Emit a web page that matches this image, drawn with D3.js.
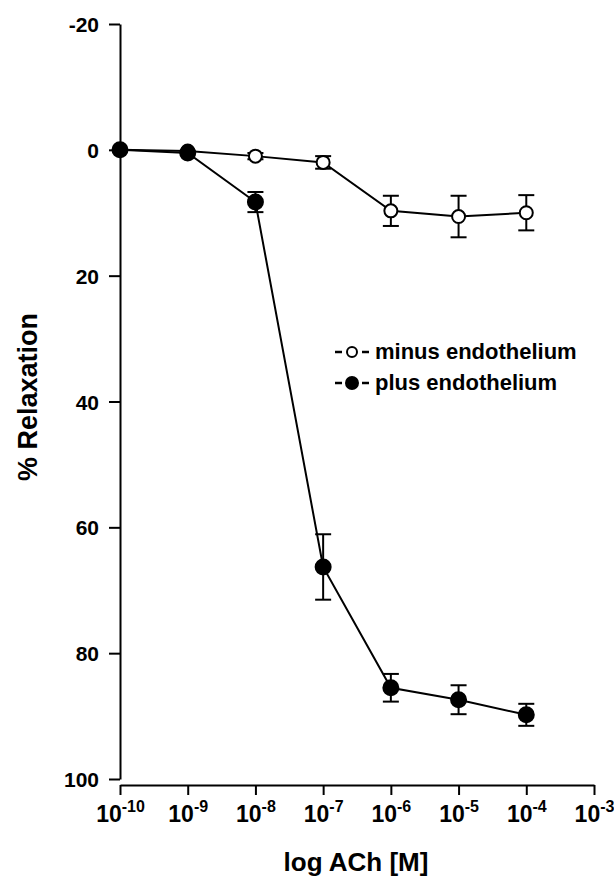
<!DOCTYPE html>
<html>
<head>
<meta charset="utf-8">
<script src="https://cdn.jsdelivr.net/npm/d3@7"></script>
<style>
  html, body { margin: 0; padding: 0; background: #fff; }
  svg { display: block; }
  text { font-family: "Liberation Sans", Arial, Helvetica, sans-serif; font-weight: bold; fill: #000; }
</style>
</head>
<body>
<svg id="chart" width="614" height="876"></svg>
<script>
// ACh concentrations (M)
const concentrations = [1e-10, 1e-9, 1e-8, 1e-7, 1e-6, 1e-5, 1e-4];

// % relaxation, mean and error, endothelium-denuded rings
const minusMean = [0, 0.2, 1.0, 2.0, 9.7, 10.6, 10.0];
const minusErr  = [0, 0, 0.5, 1.0, 2.4, 3.3, 2.8];

// % relaxation, mean and error, endothelium-intact rings
const plusMean = [0, 0.5, 8.3, 66.3, 85.5, 87.4, 89.8];
const plusErr  = [0, 0, 1.6, 5.2, 2.2, 2.3, 1.75];

const xTickExponents = [-10, -9, -8, -7, -6, -5, -4, -3];
const yTicks = [-20, 0, 20, 40, 60, 80, 100];

const legendLabels = ["minus endothelium", "plus endothelium"];

const svg = d3.select("#chart");

const x = d3.scaleLog().domain([1e-10, 1e-3]).range([120, 594]);
const y = d3.scaleLinear().domain([-20, 100]).range([24, 779]);

// y axis
const yAxis = svg.append("g")
  .attr("transform", "translate(120,0)")
  .call(d3.axisLeft(y).tickValues(yTicks).tickFormat(d => String(d))
    .tickSize(11).tickSizeOuter(0).tickPadding(10));
yAxis.select(".domain").attr("stroke", "#000").attr("stroke-width", 2);
yAxis.selectAll(".tick line").attr("stroke", "#000").attr("stroke-width", 2);
yAxis.selectAll(".tick text").style("font-size", "21px").attr("dy", "0.36em");

// x axis
const xAxis = svg.append("g")
  .attr("transform", "translate(0,785)")
  .call(d3.axisBottom(x).tickValues(xTickExponents.map(e => Math.pow(10, e)))
    .tickFormat("").tickSize(10).tickSizeOuter(0));
xAxis.select(".domain").attr("stroke", "#000").attr("stroke-width", 2);
xAxis.selectAll(".tick line").attr("stroke", "#000").attr("stroke-width", 2);
xAxis.selectAll(".tick").each(function(d) {
  const t = d3.select(this).append("text")
    .attr("y", 37).attr("text-anchor", "middle");
  t.append("tspan").style("font-size", "23px").text("10");
  t.append("tspan").style("font-size", "16px").attr("dy", -10)
    .text(String(Math.round(Math.log10(d))));
});

// axis titles
svg.append("text")
  .attr("x", 356).attr("y", 871)
  .attr("text-anchor", "middle")
  .style("font-size", "26px")
  .text("log ACh [M]");

svg.append("text")
  .attr("transform", "translate(37,397) rotate(-90)")
  .attr("text-anchor", "middle")
  .style("font-size", "27px")
  .text("% Relaxation");

// series
function drawSeries(mean, err, filled) {
  const pts = concentrations.map((c, i) => ({ c, m: mean[i], e: err[i] }));
  const g = svg.append("g");
  g.append("path")
    .datum(pts)
    .attr("fill", "none")
    .attr("stroke", "#000")
    .attr("stroke-width", 2)
    .attr("d", d3.line().x(d => x(d.c)).y(d => y(d.m)));
  const eb = g.selectAll(".eb").data(pts.filter(d => d.e > 0)).enter().append("g")
    .attr("stroke", "#000").attr("stroke-width", 2);
  eb.append("line")
    .attr("x1", d => x(d.c)).attr("x2", d => x(d.c))
    .attr("y1", d => y(d.m - d.e)).attr("y2", d => y(d.m + d.e));
  eb.append("line")
    .attr("x1", d => x(d.c) - 8).attr("x2", d => x(d.c) + 8)
    .attr("y1", d => y(d.m - d.e)).attr("y2", d => y(d.m - d.e));
  eb.append("line")
    .attr("x1", d => x(d.c) - 8).attr("x2", d => x(d.c) + 8)
    .attr("y1", d => y(d.m + d.e)).attr("y2", d => y(d.m + d.e));
  g.selectAll("circle").data(pts).enter().append("circle")
    .attr("cx", d => x(d.c)).attr("cy", d => y(d.m))
    .attr("r", filled ? 7.5 : 6.5)
    .attr("fill", filled ? "#000" : "#fff")
    .attr("stroke", "#000").attr("stroke-width", 2);
}
drawSeries(minusMean, minusErr, false);
drawSeries(plusMean, plusErr, true);

// legend
const legend = svg.append("g");
legendLabels.forEach((label, i) => {
  const cy = 352 + i * 31;
  legend.append("line").attr("x1", 335).attr("x2", 342).attr("y1", cy).attr("y2", cy)
    .attr("stroke", "#000").attr("stroke-width", 2.5);
  legend.append("line").attr("x1", 362).attr("x2", 369).attr("y1", cy).attr("y2", cy)
    .attr("stroke", "#000").attr("stroke-width", 2.5);
  legend.append("circle").attr("cx", 352).attr("cy", cy)
    .attr("r", i === 0 ? 5 : 6)
    .attr("fill", i === 0 ? "#fff" : "#000")
    .attr("stroke", "#000").attr("stroke-width", 2);
  legend.append("text").attr("x", 375).attr("y", cy + 7)
    .style("font-size", "22px").text(label);
});
</script>
</body>
</html>
